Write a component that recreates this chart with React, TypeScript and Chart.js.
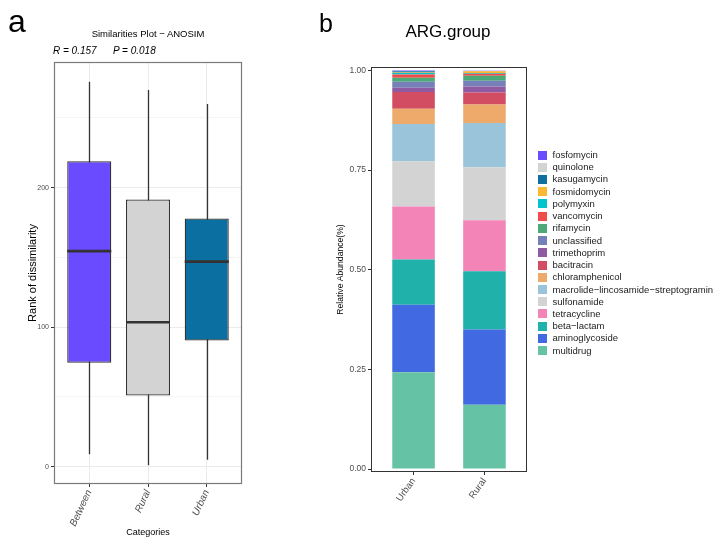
import React, { useEffect, useRef } from "react";
import { Chart, registerables } from "chart.js";

Chart.register(...registerables);

const FONT = '"Liberation Sans", Arial, Helvetica, sans-serif';
Chart.defaults.font.family = FONT;

// ---- Panel a: ANOSIM rank boxplot ----
const groups = ["Between", "Rural", "Urban"];
const whiskerLow = [9, 1, 5];
const q1 = [74.5, 51, 90.5];
const median = [154.5, 103.5, 147];
const q3 = [219, 191.5, 178];
const whiskerHigh = [276, 270, 260];
const boxColors = ["#6A4BFF", "#D3D3D3", "#0C6FA1"];
const rankTicks = [0, 50, 100, 150, 200, 250];
const rankLabels = [0, 100, 200];

// ---- Panel b: relative abundance of ARG groups ----
const sites = ["Urban", "Rural"];
const argClasses = [
  "multidrug",
  "aminoglycoside",
  "beta\u2212lactam",
  "tetracycline",
  "sulfonamide",
  "macrolide\u2212lincosamide\u2212streptogramin",
  "chloramphenicol",
  "bacitracin",
  "trimethoprim",
  "unclassified",
  "rifamycin",
  "vancomycin",
  "polymyxin",
  "fosmidomycin",
  "kasugamycin",
  "quinolone",
  "fosfomycin",
];
const urbanShare = [0.243, 0.169, 0.114, 0.133, 0.113, 0.094, 0.038, 0.042, 0.011, 0.015, 0.01, 0.008, 0.004, 0.001, 0.003, 0.001, 0.001];
const ruralShare = [0.161, 0.189, 0.146, 0.128, 0.133, 0.111, 0.047, 0.03, 0.015, 0.014, 0.013, 0.005, 0.002, 0.004, 0.001, 0.0005, 0.0005];
const argColors = [
  "#66C2A5",
  "#4169E1",
  "#20B2AA",
  "#F384B8",
  "#D3D3D3",
  "#9AC4DA",
  "#EEAA6A",
  "#D24D62",
  "#8E5BA3",
  "#7580B8",
  "#4DAA78",
  "#F04C4C",
  "#00C5CD",
  "#FDB833",
  "#0E6FA0",
  "#D3D3D3",
  "#6A4BFF",
];
const abundanceTicks = [0, 0.25, 0.5, 0.75, 1];

const framePlugin = (id: string, color: string, width: number) => ({
  id,
  afterDraw(chart: any) {
    const { ctx, chartArea } = chart;
    const { left, top, right, bottom } = chartArea;
    ctx.save();
    ctx.strokeStyle = color;
    ctx.lineWidth = width;
    ctx.strokeRect(left + 0.5, top + 0.5, right - left - 1, bottom - top - 1);
    ctx.restore();
  },
});

// whiskers under the boxes, medians on top of them
const boxParts = {
  id: "boxParts",
  beforeDatasetsDraw(chart: any) {
    const { ctx, scales } = chart;
    const x = scales.x;
    const y = scales.y;
    ctx.save();
    ctx.strokeStyle = "#333333";
    ctx.lineWidth = 1.3;
    groups.forEach((_, i) => {
      const px = Math.round(x.getPixelForValue(i + 1)) + 0.5;
      ctx.beginPath();
      ctx.moveTo(px, y.getPixelForValue(whiskerLow[i]));
      ctx.lineTo(px, y.getPixelForValue(whiskerHigh[i]));
      ctx.stroke();
    });
    ctx.restore();
  },
  afterDatasetsDraw(chart: any) {
    const { ctx, scales } = chart;
    const y = scales.y;
    const meta = chart.getDatasetMeta(0);
    ctx.save();
    ctx.strokeStyle = "#333333";
    ctx.lineWidth = 2.6;
    meta.data.forEach((bar: any, i: number) => {
      const { x: cx, width } = bar.getProps(["x", "width"], true);
      const py = y.getPixelForValue(median[i]);
      ctx.beginPath();
      ctx.moveTo(cx - width / 2, py);
      ctx.lineTo(cx + width / 2, py);
      ctx.stroke();
    });
    ctx.restore();
  },
};

function BoxPanel() {
  const ref = useRef<HTMLCanvasElement | null>(null);
  useEffect(() => {
    if (!ref.current) return;
    const chart = new Chart(ref.current, {
      type: "bar",
      data: {
        datasets: [
          {
            data: groups.map((_, i) => ({ x: i + 1, y: [q1[i], q3[i]] })) as any,
            backgroundColor: boxColors,
            borderColor: "#333333",
            borderWidth: 1.3,
            borderSkipped: false,
            categoryPercentage: 1,
            barPercentage: 0.75,
          },
        ],
      },
      options: {
        animation: false,
        responsive: false,
        events: [],
        layout: { padding: { left: 0, right: 88, top: 62, bottom: 0 } },
        plugins: { legend: { display: false }, tooltip: { enabled: false } },
        scales: {
          x: {
            type: "linear",
            offset: false,
            min: 0.4,
            max: 3.6,
            bounds: "data",
            afterBuildTicks: (s: any) => {
              s.ticks = groups.map((_, i) => ({ value: i + 1 }));
            },
            afterFit: (s: any) => {
              s.height = 59;
            },
            ticks: {
              autoSkip: false,
              minRotation: 65,
              maxRotation: 65,
              padding: 1,
              color: "#4D4D4D",
              font: { size: 10, style: "italic" },
              callback: (v: any) => groups[Number(v) - 1] ?? "",
            },
            grid: { offset: false, color: "#EBEBEB", lineWidth: 1, tickColor: "#333333", tickLength: 3 },
            border: { display: false },
            title: {
              display: true,
              text: "Categories",
              color: "#000000",
              font: { size: 9 },
              padding: { top: 0, bottom: 5 },
            },
          },
          y: {
            type: "linear",
            min: -12.4,
            max: 290.1,
            bounds: "data",
            afterBuildTicks: (s: any) => {
              s.ticks = rankTicks.map((v) => ({ value: v }));
            },
            afterFit: (s: any) => {
              s.width = 54;
            },
            ticks: {
              autoSkip: false,
              padding: 2,
              color: "#4D4D4D",
              font: { size: 7 },
              callback: (v: any) => (rankLabels.includes(Number(v)) ? String(v) : ""),
            },
            grid: {
              color: "#EBEBEB",
              lineWidth: (c: any) => (rankLabels.includes(c.tick?.value) ? 1 : 0.5),
              tickColor: (c: any) => (rankLabels.includes(c.tick?.value) ? "#333333" : "rgba(0,0,0,0)"),
              tickLength: 3,
            },
            border: { display: false },
            title: {
              display: true,
              text: "Rank of dissimilarity",
              color: "#000000",
              font: { size: 11 },
              padding: { top: 26, bottom: 0 },
            },
          },
        },
      },
      plugins: [boxParts, framePlugin("frameA", "#7A7A7A", 1.2)],
    });
    return () => chart.destroy();
  }, []);
  return <canvas ref={ref} width={330} height={543} style={{ position: "absolute", left: 0, top: 0 }} />;
}

function StackPanel() {
  const ref = useRef<HTMLCanvasElement | null>(null);
  useEffect(() => {
    if (!ref.current) return;
    const chart = new Chart(ref.current, {
      type: "bar",
      data: {
        datasets: argClasses.map((name, i) => ({
          label: name,
          data: [
            { x: 1, y: urbanShare[i] },
            { x: 2, y: ruralShare[i] },
          ],
          backgroundColor: argColors[i],
          borderWidth: 0,
          categoryPercentage: 1,
          barPercentage: 0.6,
        })),
      },
      options: {
        animation: false,
        responsive: false,
        events: [],
        layout: { padding: { left: 0, right: 191, top: 67, bottom: 0 } },
        plugins: { legend: { display: false }, tooltip: { enabled: false } },
        scales: {
          x: {
            type: "linear",
            offset: false,
            stacked: true,
            min: 0.4,
            max: 2.6,
            bounds: "data",
            afterBuildTicks: (s: any) => {
              s.ticks = sites.map((_, i) => ({ value: i + 1 }));
            },
            afterFit: (s: any) => {
              s.height = 71;
            },
            ticks: {
              autoSkip: false,
              minRotation: 55,
              maxRotation: 55,
              padding: 1,
              color: "#4D4D4D",
              font: { size: 9.5 },
              callback: (v: any) => sites[Number(v) - 1] ?? "",
            },
            grid: { offset: false, drawOnChartArea: false, color: "#333333", tickColor: "#333333", tickLength: 3 },
            border: { display: false },
          },
          y: {
            type: "linear",
            stacked: true,
            min: -0.0075,
            max: 1.0088,
            bounds: "data",
            afterBuildTicks: (s: any) => {
              s.ticks = abundanceTicks.map((v) => ({ value: v }));
            },
            afterFit: (s: any) => {
              s.width = 51;
            },
            ticks: {
              autoSkip: false,
              padding: 2,
              color: "#4D4D4D",
              font: { size: 8.5 },
              callback: (v: any) => Number(v).toFixed(2),
            },
            grid: { drawOnChartArea: false, color: "#333333", tickColor: "#333333", tickLength: 3 },
            border: { display: false },
            title: {
              display: true,
              text: "Relative Abundance(%)",
              color: "#000000",
              font: { size: 8.6 },
              padding: { top: 15, bottom: 0 },
            },
          },
        },
      },
      plugins: [framePlugin("frameB", "#333333", 1)],
    });
    return () => chart.destroy();
  }, []);
  return <canvas ref={ref} width={398} height={543} style={{ position: "absolute", left: 320, top: 0 }} />;
}

const abs = (extra: React.CSSProperties): React.CSSProperties => ({
  position: "absolute",
  lineHeight: 1,
  whiteSpace: "nowrap",
  fontFamily: FONT,
  color: "#000",
  ...extra,
});

export default function App() {
  const legendOrder = argClasses.map((_, i) => i).reverse();
  return (
    <div
      style={{
        position: "absolute",
        left: 0,
        top: 0,
        width: 718,
        height: 543,
        background: "#FFFFFF",
        overflow: "hidden",
        fontFamily: FONT,
      }}
    >
      <BoxPanel />
      <StackPanel />

      <div style={abs({ left: 8, top: 5, fontSize: 32 })}>a</div>
      <div style={abs({ left: 319, top: 10.5, fontSize: 25 })}>b</div>

      <div style={abs({ left: 148, top: 28.5, fontSize: 9.5, transform: "translateX(-50%)" })}>
        Similarities Plot − ANOSIM
      </div>
      <div style={abs({ left: 53, top: 46, fontSize: 10, fontStyle: "italic" })}>R = 0.157</div>
      <div style={abs({ left: 113, top: 46, fontSize: 10, fontStyle: "italic" })}>P = 0.018</div>

      <div style={abs({ left: 448, top: 23, fontSize: 17, transform: "translateX(-50%)" })}>ARG.group</div>

      {legendOrder.map((idx, row) => {
        const cy = 155 + row * 12.23;
        return (
          <React.Fragment key={argClasses[idx]}>
            <div
              style={{
                position: "absolute",
                left: 538,
                top: cy - 4.5,
                width: 9,
                height: 9,
                background: argColors[idx],
              }}
            />
            <div style={abs({ left: 552.5, top: cy - 5, fontSize: 9.5, color: "#1A1A1A" })}>{argClasses[idx]}</div>
          </React.Fragment>
        );
      })}
    </div>
  );
}
